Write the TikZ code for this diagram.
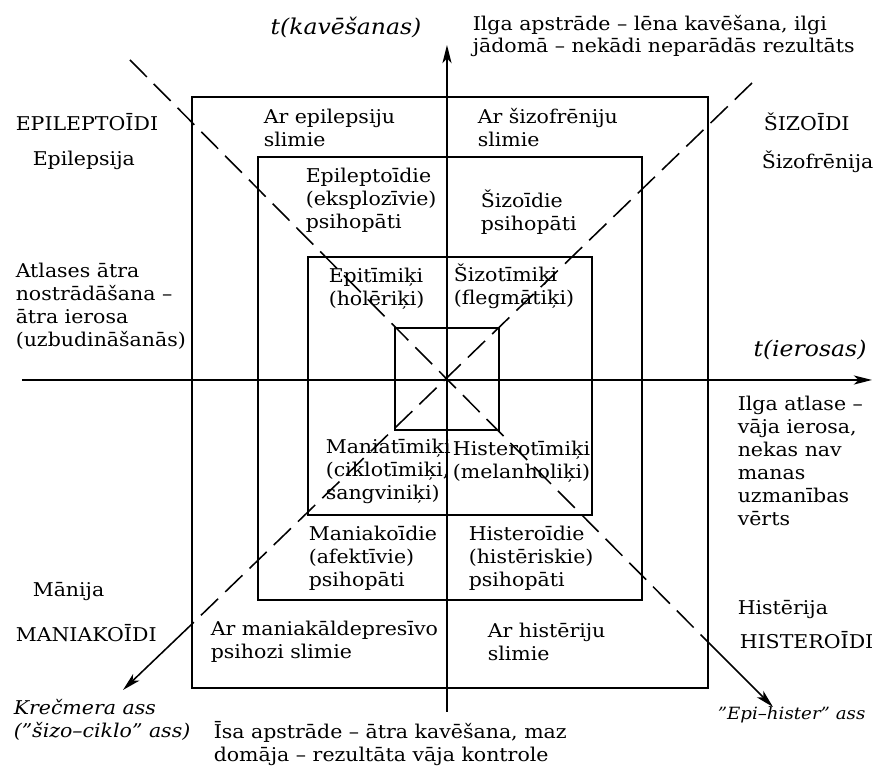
\documentclass[tikz,border=0pt]{standalone}
\usepackage{fontspec}
\setmainfont{DejaVu Serif}[FakeStretch=1.08]
\usetikzlibrary{arrows.meta}

\begin{document}
\begin{tikzpicture}[line width=1.1pt,
  every node/.style={font=\fontsize{13.5}{16.3}\selectfont, inner sep=0pt},
  lbl/.style={anchor=west, align=left},
  axlbl/.style={font=\fontsize{15.5}{18}\selectfont\itshape},
  itlbl/.style={lbl, font=\fontsize{13.5}{16.3}\selectfont\itshape},
  diag/.style={dash pattern=on 17pt off 7pt},
  tip/.style={-{Stealth[length=13pt, width=6.5pt, inset=3.5pt]}}]
  \useasboundingbox (-11.175,-9.675) rectangle (10.75,9.5);
  % squares, outer to inner
  \draw (-6.375,-7.7) rectangle (6.525,7.075);
  \draw (-4.725,-5.5) rectangle (4.875,5.575);
  \draw (-3.475,-3.375) rectangle (3.625,3.075);
  \draw (-1.3,-1.25) rectangle (1.3,1.3);
  % axes
  \coordinate (xl) at (-10.625,0);
  \coordinate (xr) at (10.625,0);
  \coordinate (yb) at (0,-8.3);
  \coordinate (yt) at (0,8.375);
  \draw[tip] (xl) -- (xr);
  \draw[tip] (yb) -- (yt);
  % diagonals, solid near the arrow tips
  \coordinate (nw) at (-7.925,8.0);
  \coordinate (se) at (6.525,-6.55);
  \coordinate (setip) at (8.15,-8.175);
  \coordinate (ne) at (7.625,7.425);
  \coordinate (sw) at (-6.375,-6.1);
  \coordinate (swtip) at (-8.1,-7.75);
  \draw[diag] (nw) -- (se);
  \draw[tip] (se) -- (setip);
  \draw[diag] (ne) -- (sw);
  \draw[tip] (sw) -- (swtip);
  % axis labels
  \node[axlbl] (tkav) at (-2.525,8.825) {t(kavēšanas)};
  \node[axlbl] (tier) at (9.075,0.75) {t(ierosas)};
  \node[lbl] (top) at (0.625,8.6) {Ilga apstrāde – lēna kavēšana, ilgi\\jādomā – nekādi neparādās rezultāts};
  \node[lbl] (bot) at (-5.85,-9.1) {Īsa apstrāde – ātra kavēšana, maz\\domāja – rezultāta vāja kontrole};
  \node[lbl] (left) at (-10.8,1.85) {Atlases ātra\\nostrādāšana –\\ātra ierosa\\(uzbudināšanās)};
  \node[lbl] (right) at (7.25,-2.025) {Ilga atlase –\\vāja ierosa,\\nekas nav\\manas\\uzmanības\\vērts};
  % corner types
  \node[lbl] (epi) at (-10.8,6.45) {EPILEPTOĪDI};
  \node[lbl] (epis) at (-10.375,5.5) {Epilepsija};
  \node[lbl] (szi) at (7.9,6.45) {ŠIZOĪDI};
  \node[lbl] (szis) at (7.85,5.45) {Šizofrēnija};
  \node[lbl] (man) at (-10.375,-5.3) {Mānija};
  \node[lbl] (mani) at (-10.8,-6.325) {MANIAKOĪDI};
  \node[lbl] (his) at (7.25,-5.75) {Histērija};
  \node[lbl] (hist) at (7.3,-6.5) {HISTEROĪDI};
  \node[itlbl] (kre) at (-10.85,-8.5) {Krečmera ass\\("šizo–ciklo" ass)};
  \node[itlbl, font=\fontsize{12}{16.3}\selectfont\itshape] (eph) at (6.75,-8.375) {"Epi–hister" ass};
  % outer square
  \node[lbl] (o1) at (-4.6,6.3) {Ar epilepsiju\\slimie};
  \node[lbl] (o2) at (0.75,6.3) {Ar šizofrēniju\\slimie};
  \node[lbl] (o3) at (-5.925,-6.54) {Ar maniakāldepresīvo\\psihozi slimie};
  \node[lbl] (o4) at (1.0,-6.55) {Ar histēriju\\slimie};
  % second square
  \node[lbl] (s1) at (-3.55,4.5) {Epileptoīdie\\(eksplozīvie)\\psihopāti};
  \node[lbl] (s2) at (0.825,4.2) {Šizoīdie\\psihopāti};
  \node[lbl] (s3) at (-3.475,-4.45) {Maniakoīdie\\(afektīvie)\\psihopāti};
  \node[lbl] (s4) at (0.525,-4.45) {Histeroīdie\\(histēriskie)\\psihopāti};
  % third square
  \node[lbl] (t1) at (-2.975,2.29) {Epitīmiķi\\(holēriķi)};
  \node[lbl] (t2) at (0.15,2.34) {Šizotīmiķi\\(flegmātiķi)};
  \node[lbl] (t3) at (-3.05,-2.275) {Maniatīmiķi\\(ciklotīmiķi,\\sangviniķi)};
  \node[lbl] (t4) at (0.13,-2.04) {Histerotīmiķi\\(melanholiķi)};
\end{tikzpicture}
\end{document}
